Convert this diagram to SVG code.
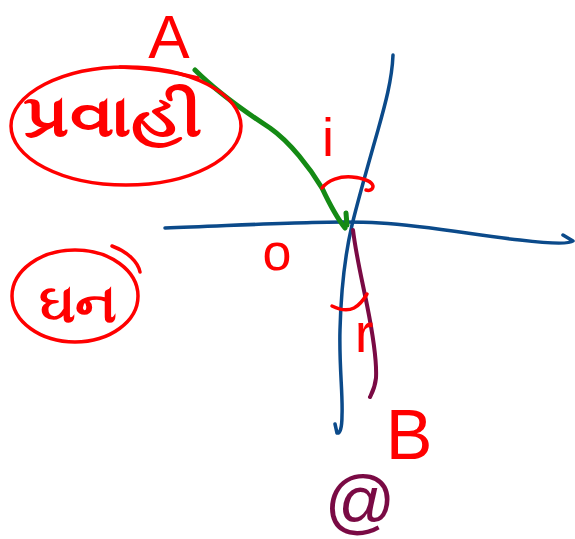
<svg xmlns="http://www.w3.org/2000/svg" width="575" height="539" viewBox="0 0 575 539">
<style>
.red{fill:none;stroke:#f00;stroke-width:3.5;stroke-linecap:round;stroke-linejoin:round}
.lbl{fill:#f00;font-family:"Liberation Sans","DejaVu Sans",sans-serif}
.guj{fill:#f00;font-family:"Noto Sans","DejaVu Sans",sans-serif;font-weight:bold}
.ink{fill:none;stroke-linecap:round;stroke-linejoin:round}
</style>
<rect width="575" height="539" fill="#fff"/>
<g id="connectors">
<path id="normal" class="ink" stroke="#0b4a8a" stroke-width="3.5" d="M393,55 C392,80 385,105 378,130 C368,165 358,200 352,225 C345,255 341,290 340,330 C339,365 343,395 342,415 C342,428 340,434 337,433 L335,424"/>
<path id="surface" class="ink" stroke="#0b4a8a" stroke-width="3.5" d="M165,228 C250,225 330,220 380,223 C430,226 480,236 520,240 C545,243 568,245 573,241 L563,235"/>
<path id="incident" class="ink" stroke="#148a14" stroke-width="5" d="M195,70 C220,95 250,115 270,128 C290,142 310,168 322,188 C330,205 337,218 345,228 M346,213 L347,225"/>
<path id="refracted" class="ink" stroke="#7a0a44" stroke-width="4" d="M353,230 C356,255 362,280 367,305 C373,335 377,360 376,378 C375,388 372,393 370,397"/>
<path id="angle-i" class="red" d="M322,188 C328,180 340,176 352,177 C362,178 372,181 373,186 C373,190 369,191 366,190"/>
<path id="angle-r" class="red" d="M332,306 C340,310 348,311 354,308 C360,305 364,299 367,294"/>
</g>
<g id="node-A"><text class="lbl" x="169" y="58" font-size="62" text-anchor="middle">A</text></g>
<g id="node-liquid">
<ellipse class="red" cx="126" cy="126" rx="115" ry="59"/>
<path class="red" stroke-width="1.5" d="M120,67 C150,68 175,72 198,78"/>
<text class="guj" x="113" y="136" font-size="58" text-anchor="middle" textLength="180" lengthAdjust="spacingAndGlyphs">પ્રવાહી</text>
</g>
<g id="node-solid">
<ellipse class="red" cx="75" cy="296" rx="63" ry="46"/>
<path class="red" stroke-width="1.5" d="M112,246 C128,252 138,262 140,272"/>
<text class="guj" x="78" y="322" font-size="54" text-anchor="middle" textLength="78" lengthAdjust="spacingAndGlyphs">ઘન</text>
</g>
<g id="node-i"><text class="lbl" x="328" y="156" font-size="54" text-anchor="middle">i</text></g>
<g id="node-o"><text class="lbl" x="277" y="270" font-size="52" text-anchor="middle">o</text></g>
<g id="node-r"><text class="lbl" x="364" y="352" font-size="56" text-anchor="middle">r</text></g>
<g id="node-B"><text class="lbl" x="409" y="459" font-size="70" text-anchor="middle">B</text></g>
<g id="node-at"><text x="360" y="525" font-size="70" text-anchor="middle" fill="#7a0a44" font-family="Liberation Sans, sans-serif">@</text></g>
</svg>
